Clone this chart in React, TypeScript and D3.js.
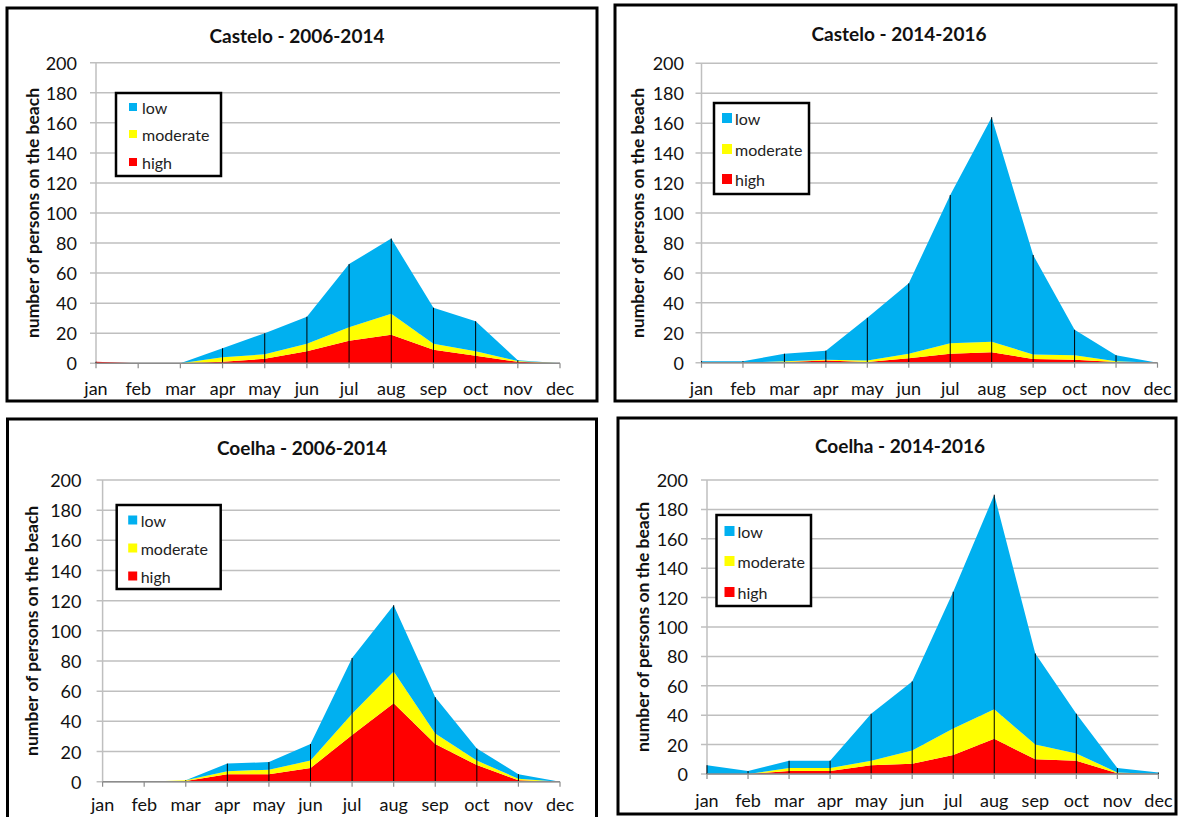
import React from "react";
import * as d3 from "d3";

const months = ["jan", "feb", "mar", "apr", "may", "jun", "jul", "aug", "sep", "oct", "nov", "dec"];
const yTicks = [0, 20, 40, 60, 80, 100, 120, 140, 160, 180, 200];
const levels = ["high", "moderate", "low"];
const legendOrder = ["low", "moderate", "high"];

// Castelo 2006-2014
const casteloOldHigh = [1, 0, 0, 1, 3, 8, 15, 19, 9, 5, 1, 0];
const casteloOldModerate = [0, 0, 0, 3, 3, 5, 9, 14, 4, 3, 0.5, 0];
const casteloOldLow = [0, 0, 0, 6, 14, 18, 42, 50, 24, 20, 0.5, 0];

// Castelo 2014-2016
const casteloNewHigh = [0, 0, 0.5, 1.5, 0.5, 3, 6, 7, 2.5, 2, 0.5, 0];
const casteloNewModerate = [0, 0, 0.5, 0.5, 1, 3, 7, 7, 3, 3, 0.5, 0];
const casteloNewLow = [1, 1, 5, 6, 28.5, 47, 99, 150, 66.5, 17, 4, 0];

// Coelha 2006-2014
const coelhaOldHigh = [0, 0, 0.5, 5, 5, 9, 31, 52, 25, 11, 1, 0];
const coelhaOldModerate = [0, 0, 0.5, 2, 3, 5, 14, 21, 7, 3, 1, 0];
const coelhaOldLow = [0, 0, 0, 5, 5, 11, 37, 44, 24, 8, 3, 0];

// Coelha 2014-2016
const coelhaNewHigh = [0, 0, 2, 2, 6, 7, 13, 24, 10, 9, 0.5, 0];
const coelhaNewModerate = [0, 0, 2, 2, 3, 9, 18, 20, 10, 5, 0.5, 0];
const coelhaNewLow = [6, 2, 5, 5, 32, 47, 93, 146, 62, 27, 3, 1];

const colors = { low: "#00b0f0", moderate: "#ffff00", high: "#ff0000" };
const FONT = "Lato, 'Open Sans', sans-serif";

const panels = [
  {
    title: "Castelo - 2006-2014",
    high: casteloOldHigh, moderate: casteloOldModerate, low: casteloOldLow,
    frame: { x: 7, y: 8, w: 590, h: 393 },
    titleX: 297, titleY: 35,
    plot: { left: 96, right: 560, top: 62.7, bottom: 363.3 },
    legend: { x: 116, y: 93, w: 105, h: 83, items: [107, 134, 162], sq: 13, tx: 26, size: 8 },
    ylabelX: 32, monthY: 388, tickRight: 77,
  },
  {
    title: "Castelo - 2014-2016",
    high: casteloNewHigh, moderate: casteloNewModerate, low: casteloNewLow,
    frame: { x: 615, y: 5, w: 561, h: 396 },
    titleX: 899, titleY: 33,
    plot: { left: 701.5, right: 1157.5, top: 63.3, bottom: 362.7 },
    legend: { x: 714, y: 103, w: 95, h: 91, items: [118, 149, 179], sq: 8, tx: 21, size: 10 },
    ylabelX: 637, monthY: 388, tickRight: 684,
  },
  {
    title: "Coelha - 2006-2014",
    high: coelhaOldHigh, moderate: coelhaOldModerate, low: coelhaOldLow,
    frame: { x: 7.5, y: 419, w: 589, h: 410 },
    titleX: 302, titleY: 447,
    plot: { left: 102.6, right: 560, top: 480, bottom: 781.7 },
    legend: { x: 116.7, y: 505, w: 104, h: 84, items: [520, 548, 576], sq: 11.5, tx: 24, size: 9 },
    ylabelX: 31, monthY: 804, tickRight: 81.5,
  },
  {
    title: "Coelha - 2014-2016",
    high: coelhaNewHigh, moderate: coelhaNewModerate, low: coelhaNewLow,
    frame: { x: 618, y: 418, w: 558, h: 396 },
    titleX: 900, titleY: 445,
    plot: { left: 707, right: 1158.4, top: 480, bottom: 774 },
    legend: { x: 716.5, y: 515, w: 94.5, h: 91, items: [531, 561, 592], sq: 8, tx: 21, size: 10 },
    ylabelX: 642, monthY: 800, tickRight: 688,
  },
];

function Panel({ p }) {
  const { plot, frame, legend } = p;
  const x = d3.scalePoint().domain(months).range([plot.left, plot.right]);
  const y = d3.scaleLinear().domain([0, 200]).range([plot.bottom, plot.top]);

  const rows = months.map((m, i) => ({ month: m, high: p.high[i], moderate: p.moderate[i], low: p.low[i] }));
  const series = d3.stack().keys(levels)(rows);

  const area = d3
    .area()
    .x((d) => x(d.data.month))
    .y0((d) => y(d[0]))
    .y1((d) => y(d[1]));

  const totals = rows.map((r) => r.high + r.moderate + r.low);

  return (
    <g>
      <rect x={frame.x} y={frame.y} width={frame.w} height={frame.h} fill="#fff" stroke="#000" strokeWidth={3} />
      <text x={p.titleX} y={p.titleY} textAnchor="middle" dominantBaseline="central"
        fontFamily={FONT} fontWeight="bold" fontSize={19} fill="#111">{p.title}</text>

      {/* gridlines */}
      {yTicks.map((t) => (
        <line key={t} x1={plot.left - 6} x2={plot.right} y1={y(t)} y2={y(t)} stroke="#bfbfbf" strokeWidth={1.5} />
      ))}
      <line x1={plot.left} x2={plot.left} y1={plot.top} y2={plot.bottom} stroke="#bfbfbf" strokeWidth={1.5} />

      {series.map((s) => (
        <path key={s.key} d={area(s)} fill={colors[s.key]} />
      ))}

      {/* drop lines */}
      {months.map((m, i) => (
        <line key={m} x1={x(m)} x2={x(m)} y1={y(0)} y2={y(totals[i])} stroke="#000" strokeWidth={1} />
      ))}

      {/* x axis */}
      <line x1={plot.left} x2={plot.right} y1={plot.bottom} y2={plot.bottom} stroke="#8c8c8c" strokeWidth={1.5} />
      {months.map((m) => (
        <line key={m} x1={x(m)} x2={x(m)} y1={plot.bottom} y2={plot.bottom + 5} stroke="#8c8c8c" strokeWidth={1.2} />
      ))}
      {months.map((m) => (
        <text key={m} x={x(m)} y={p.monthY} textAnchor="middle" dominantBaseline="central"
          fontFamily={FONT} fontSize={18} fill="#111">{m}</text>
      ))}

      {yTicks.map((t) => (
        <text key={t} x={p.tickRight} y={y(t)} textAnchor="end" dominantBaseline="central"
          fontFamily={FONT} fontSize={18} fill="#111">{t}</text>
      ))}

      <text transform={`translate(${p.ylabelX},${(plot.top + plot.bottom) / 2}) rotate(-90)`}
        textAnchor="middle" dominantBaseline="central" fontFamily={FONT} fontWeight="bold"
        fontSize={17.5} fill="#111">number of persons on the beach</text>

      {/* legend */}
      <rect x={legend.x} y={legend.y} width={legend.w} height={legend.h} fill="#fff" stroke="#000" strokeWidth={2.5} />
      {legendOrder.map((k, i) => (
        <g key={k}>
          <rect x={legend.x + legend.sq} y={legend.items[i] - legend.size / 2} width={legend.size} height={legend.size} fill={colors[k]} />
          <text x={legend.x + legend.tx} y={legend.items[i]} dominantBaseline="central"
            fontFamily={FONT} fontSize={16} fill="#222">{k}</text>
        </g>
      ))}
    </g>
  );
}

export default function App() {
  return (
    <div style={{ position: "absolute", left: 0, top: 0 }}>
      <svg width={1178} height={817} style={{ display: "block", background: "#fff" }}>
        {panels.map((p) => (
          <Panel key={p.title} p={p} />
        ))}
      </svg>
    </div>
  );
}
